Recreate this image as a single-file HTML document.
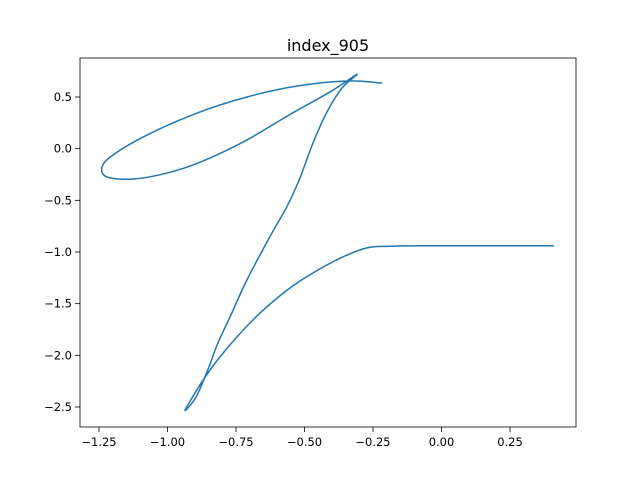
<!DOCTYPE html>
<html><head><meta charset="utf-8"><style>body{margin:0;background:#fff}svg{display:block;font-family:"DejaVu Sans","Liberation Sans",sans-serif}</style></head>
<body>
<svg id="chart" width="640" height="480" xmlns="http://www.w3.org/2000/svg">
<rect width="640" height="480" fill="#fff"/>
<text x="328" y="51" text-anchor="middle" font-size="16">index_905</text>
<g id="plot"></g>
<rect x="80" y="58" width="496" height="369" fill="none" stroke="#000" stroke-width="0.8"/>
</svg>
<script>
const xs = [0.41,0.14,-0.078,-0.188,-0.272,-0.370,-0.480,-0.564,-0.662,-0.746,-0.819,-0.875,-0.936,-0.895,-0.85,-0.816,-0.772,-0.71,-0.626,-0.564,-0.516,-0.469,-0.418,-0.363,-0.308,-0.40,-0.56,-0.72,-0.88,-1.00,-1.126,-1.221,-1.239,-1.199,-1.075,-0.892,-0.71,-0.527,-0.345,-0.217];
const ys = [-0.94,-0.94,-0.94,-0.945,-0.96,-1.06,-1.22,-1.37,-1.59,-1.82,-2.05,-2.26,-2.53,-2.40,-2.12,-1.88,-1.63,-1.27,-0.85,-0.56,-0.28,0.055,0.355,0.587,0.72,0.56,0.32,0.07,-0.13,-0.235,-0.294,-0.274,-0.177,-0.061,0.132,0.345,0.5,0.606,0.655,0.635];
const xTicks = [-1.25,-1.0,-0.75,-0.5,-0.25,0.0,0.25];
const xTickLabels = ["\u22121.25","\u22121.00","\u22120.75","\u22120.50","\u22120.25","0.00","0.25"];
const yTicks = [0.5,0.0,-0.5,-1.0,-1.5,-2.0,-2.5];
const yTickLabels = ["0.5","0.0","\u22120.5","\u22121.0","\u22121.5","\u22122.0","\u22122.5"];
const X = v => 99 + (v + 1.25) * 274;
const Y = v => 97 - (v - 0.5) * 103.33;
const NS = "http://www.w3.org/2000/svg";
const g = document.getElementById('plot');
function mk(t, a){const e=document.createElementNS(NS,t);for(const k in a)e.setAttribute(k,a[k]);g.appendChild(e);return e;}
xTicks.forEach((t,i)=>{
  const l=mk('line',{x1:X(t),x2:X(t),y1:427,y2:432,stroke:'#000','stroke-width':0.8});
  
  
  const tx=mk('text',{x:X(t),y:446,'text-anchor':'middle','font-size':11.5});
  tx.textContent=xTickLabels[i];
  
  
});
yTicks.forEach((t,i)=>{
  const l=mk('line',{x1:75,x2:80,y1:Y(t),y2:Y(t),stroke:'#000','stroke-width':0.8});
  
  
  const tx=mk('text',{x:72,y:Y(t)+4,'text-anchor':'end','font-size':11.5});
  tx.textContent=yTickLabels[i];
  
  
});
const P = xs.map((x,i)=>[X(x),Y(ys[i])]);
let d = `M${P[0][0]},${P[0][1]}`;
for(let i=0;i<P.length-1;i++){
  const p0=P[Math.max(0,i-1)],p1=P[i],p2=P[i+1],p3=P[Math.min(P.length-1,i+2)];
  const c1=[p1[0]+(p2[0]-p0[0])/6,p1[1]+(p2[1]-p0[1])/6];
  const c2=[p2[0]-(p3[0]-p1[0])/6,p2[1]-(p3[1]-p1[1])/6];
  d+=` C${c1[0]},${c1[1]} ${c2[0]},${c2[1]} ${p2[0]},${p2[1]}`;
}
const line=mk('path',{d:d,fill:'none',stroke:'#1f77b4','stroke-width':1.5,'stroke-linejoin':'round'});


</script>
</body></html>
